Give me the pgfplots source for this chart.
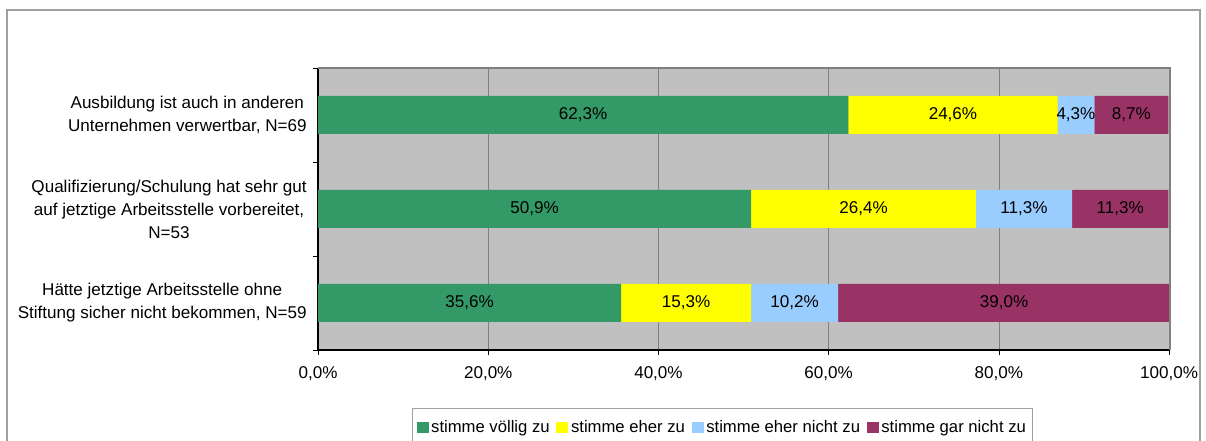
\documentclass[border=0pt]{standalone}
\usepackage{fontspec}
\setmainfont{Liberation Sans}
\usepackage{pgfplots}
\pgfplotsset{compat=1.18}
\definecolor{cGreen}{HTML}{339966}
\definecolor{cYellow}{HTML}{FFFF00}
\definecolor{cBlue}{HTML}{99CCFF}
\definecolor{cPurple}{HTML}{993366}
\definecolor{cBack}{HTML}{C0C0C0}
\definecolor{cGrid}{HTML}{808080}
\definecolor{cFrame}{HTML}{A0A0A0}
\begin{document}
\begin{tikzpicture}
\path[use as bounding box] (0,0) rectangle (904.5pt,-330.75pt);
\draw[cFrame, line width=1.5pt] (5.25pt,-335pt) -- (5.25pt,-7.5pt) -- (900pt,-7.5pt) -- (900pt,-335pt);
\begin{axis}[
  at={(238.5pt,-51pt)}, anchor=north west,
  scale only axis, width=639pt, height=211.5pt,
  xbar stacked, bar width=28.5pt,
  xmin=0, xmax=100.1, ymin=-0.5, ymax=2.5,
  axis background/.style={fill=cBack},
  axis x line*=bottom, axis y line*=left,
  axis line style={black, line width=0.8pt},
  tick align=outside, major tick length=3.75pt,
  tick style={black, line width=0.6pt},
  xtick={0,20,40,60,80,100},
  xticklabel={\pgfmathprintnumber[fixed,fixed zerofill,precision=1,use comma]{\tick}\%},
  xticklabel style={font=\fontsize{12.8pt}{15pt}\selectfont, yshift=-5.5pt},
  xmajorgrids, grid style={cGrid, line width=0.6pt},
  ytick={-0.5,0.5,1.5,2.5}, yticklabels={},
  extra y ticks={0,1,2},
  extra y tick labels={{Hätte jetztige Arbeitsstelle ohne\\Stiftung sicher nicht bekommen, N=59},{Qualifizierung/Schulung hat sehr gut\\auf jetztige Arbeitsstelle vorbereitet,\\N=53},{Ausbildung ist auch in anderen\\Unternehmen verwertbar, N=69}},
  extra y tick style={major tick length=0pt, yticklabel style={align=center, font=\fontsize{12.8pt}{17.25pt}\selectfont, xshift=-5pt}},
  /pgf/number format/assume math mode=true,
  point meta=rawx,
  nodes near coords={\pgfmathprintnumber[fixed,fixed zerofill,precision=1,use comma]{\pgfplotspointmeta}\%},
  every node near coord/.append style={anchor=center, font=\fontsize{12.8pt}{15pt}\selectfont, text=black},
  legend columns=4,
  legend style={at={(axis description cs:0.1103,-0.2057)}, anchor=north west, draw=cFrame, line width=0.8pt, font=\fontsize{12.5pt}{15pt}\selectfont, inner xsep=3pt, inner ysep=7pt,
    /tikz/every odd column/.append style={column sep=0pt},
    /tikz/every even column/.append style={column sep=3pt}},
  legend image code/.code={\fill[#1, draw=none] (0pt,-4.2pt) rectangle (9pt,4.2pt);},
  after end axis/.code={\draw[cGrid, line width=0.8pt] (rel axis cs:0,1) -- (rel axis cs:1,1) -- (rel axis cs:1,0);},
]
\addplot[fill=cGreen, draw=none] coordinates {(35.6,0) (50.9,1) (62.3,2)};
\addplot[fill=cYellow, draw=none] coordinates {(15.3,0) (26.4,1) (24.6,2)};
\addplot[fill=cBlue, draw=none] coordinates {(10.2,0) (11.3,1) (4.3,2)};
\addplot[fill=cPurple, draw=none] coordinates {(39.0,0) (11.3,1) (8.7,2)};
\legend{stimme völlig zu, stimme eher zu, stimme eher nicht zu, stimme gar nicht zu}
\end{axis}
\end{tikzpicture}
\end{document}
